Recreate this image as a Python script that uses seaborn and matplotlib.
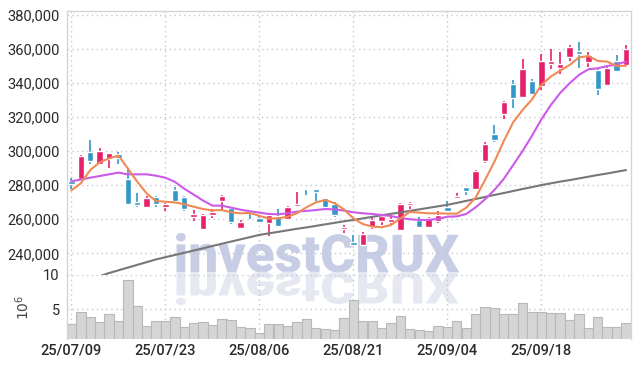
import numpy as np
import pandas as pd
import seaborn as sns
import matplotlib
matplotlib.use("Agg")
import matplotlib.pyplot as plt
import matplotlib.transforms as mtransforms
from matplotlib.ticker import FuncFormatter
from matplotlib.textpath import TextPath
from matplotlib.patches import PathPatch
from matplotlib.font_manager import FontProperties

# daily candles, 2025-07-09 .. 2025-10-01 (60 trading days)
opens = [282400, 283700, 299700, 292300, 295600, 298500, 283600, 269900, 267400, 273100,
         267400, 277200, 273300, 261300, 254500, 262500, 270700, 266400, 254700, 264200,
         260700, 258000, 262100, 260300, 268000, 278400, 277600, 272500, 269000, 254500,
         246600, 245100, 255300, 258800, 258600, 253700, 268200, 259600, 255600, 258800,
         267400, 272700, 278700, 277800, 294200, 310100, 322000, 339500, 331600, 341200,
         338500, 351400, 348700, 355100, 359000, 352200, 347900, 338900, 353000, 350600]
closes = [281000, 297200, 294400, 300100, 298900, 295800, 269000, 268400, 272300, 268800,
          269000, 270500, 265800, 262900, 262500, 264100, 273900, 258200, 258200, 263700,
          258400, 262300, 256200, 267000, 269200, 277900, 276000, 267400, 262700, 255300,
          245100, 251300, 259600, 261900, 260200, 269000, 269400, 255600, 260700, 262300,
          265100, 273700, 276800, 288400, 304200, 306800, 328700, 331000, 348500, 333400,
          353000, 353000, 351200, 361200, 357300, 356500, 336300, 349100, 347100, 360000]
highs = [284000, 297500, 306500, 302000, 299200, 299300, 289300, 275200, 273500, 273500,
         269800, 279000, 273800, 265200, 263000, 266000, 274500, 267000, 259500, 265000,
         261900, 263000, 265800, 267800, 275800, 278600, 277800, 272700, 270100, 256800,
         250500, 252500, 261500, 262300, 261500, 269300, 270300, 261100, 261500, 265000,
         270900, 275200, 279100, 289000, 305200, 315400, 329500, 341600, 354000, 342400,
         356900, 360000, 358500, 362400, 363900, 358100, 348300, 349700, 356500, 362400]
lows = [277800, 283300, 292300, 291800, 290000, 292700, 268300, 267400, 266800, 267000,
        264900, 270000, 265000, 259000, 254000, 260500, 265200, 257000, 254100, 260100,
        257600, 250200, 255300, 259600, 267600, 274300, 270700, 267000, 261500, 251700,
        244900, 244700, 254100, 256800, 256400, 252900, 266200, 254900, 255200, 257600,
        264500, 272300, 274300, 277200, 292900, 305200, 318700, 325200, 331000, 333000,
        336000, 348300, 345300, 353000, 348700, 349500, 333000, 338300, 346500, 350000]

# moving averages
ma_short = [277000, 281100, 288900, 293400, 295800, 297400, 289900, 282100, 275200, 270700,
            270300, 269900, 268800, 267400, 266000, 265200, 265400, 264100, 263500, 263700,
            262000, 260400, 260500, 261500, 263500, 267000, 269900, 271300, 269400, 265800,
            260500, 257200, 255700, 255300, 256600, 260500, 264300, 263900, 263500, 263500,
            263300, 263300, 266800, 272700, 283000, 293800, 306000, 317000, 324200, 330400,
            338900, 343800, 347300, 350600, 355100, 355900, 353000, 352600, 350000, 350200]
ma_mid = [282300, 283300, 284400, 285400, 286400, 287400, 286400, 286400, 286400, 285600,
          284400, 282000, 278000, 274500, 271000, 268000, 268000, 266800, 265600, 264700,
          263900, 263100, 262900, 263500, 264500, 264900, 265400, 266000, 265800, 265100,
          264100, 263500, 263100, 262500, 261900, 260700, 260000, 259600, 259600, 260200,
          261500, 261700, 263100, 267000, 271700, 277200, 283700, 291900, 300100, 309100,
          318700, 327100, 334200, 339900, 344800, 348100, 348700, 350000, 351000, 352600]
ma_long = [221600, 223200, 224800, 226500, 228400, 230000, 231600, 233200, 234800, 236400,
           237700, 239000, 240300, 241600, 242900, 244300, 245600, 246900, 248200, 249500,
           250800, 251700, 252600, 253500, 254400, 255200, 256100, 257000, 257900, 258800,
           259600, 260500, 261400, 262300, 263200, 264000, 264900, 265800, 266700, 267600,
           268500, 269600, 270800, 271900, 273100, 274300, 275400, 276600, 277800, 278900,
           280100, 281100, 282100, 283000, 284000, 285000, 286000, 286900, 287900, 288900]

# volume, millions
volume = [2.86, 4.56, 3.83, 3.15, 4.27, 3.25, 9.23, 5.44, 2.52, 3.25,
          3.25, 3.83, 2.38, 2.96, 3.11, 2.67, 3.54, 3.40, 2.38, 2.23,
          1.50, 2.81, 2.81, 2.52, 3.10, 3.54, 2.23, 2.08, 1.94, 3.69,
          6.31, 3.25, 3.25, 2.23, 2.96, 3.98, 2.08, 1.94, 1.84, 2.52,
          2.38, 3.25, 2.23, 4.27, 5.29, 5.15, 4.27, 4.27, 5.87, 4.56,
          4.56, 4.42, 4.42, 3.40, 4.27, 2.23, 3.83, 2.38, 2.38, 2.96]

date_ticks = [0, 10, 20, 30, 40, 50]
date_labels = ["25/07/09", "25/07/23", "25/08/06", "25/08/21", "25/09/04", "25/09/18"]

UP = "#e6206a"
DOWN = "#3396c8"

df = pd.DataFrame({"o": opens, "h": highs, "l": lows, "c": closes,
                   "ma5": ma_short, "ma20": ma_mid, "ma60": ma_long, "vol": volume})
df["i"] = np.arange(len(df))

sns.set_style("white")
plt.rcParams["font.family"] = ["Roboto", "DejaVu Sans"]

W, H = 639, 368
fig = plt.figure(figsize=(W / 100, H / 100), dpi=100)
left, right = 66.7, 630.7
ax = fig.add_axes([left / W, (H - 275) / H, (right - left) / W, 264 / H])
axv = fig.add_axes([left / W, (H - 339.3) / H, (right - left) / W, 64.3 / H])
for a in (ax, axv):
    a.set_facecolor("none")

# watermark + its reflection
tp = TextPath((0, 0), "investCRUX", size=1,
              prop=FontProperties(family="Roboto", weight="black"))
bb = tp.get_extents()
for hpx, col in ((39, "#c6cde4"), (-33, "#e5e8f1")):
    tr = (mtransforms.Affine2D().translate(-bb.x0, 0)
          .scale((459 - 176) / W / bb.width, hpx / H / bb.y1)
          .translate(176 / W, (H - 272) / H) + fig.transFigure)
    fig.add_artist(PathPatch(tp, transform=tr, facecolor=col, edgecolor="none", zorder=-1))

# candles
up = df.c >= df.o
colors = np.where(up, UP, DOWN)
ax.vlines(df.i, df.l, df.h, colors=colors, linewidth=1.2, zorder=3)
ax.bar(df.i, (df.c - df.o).abs().clip(lower=500), bottom=df[["o", "c"]].min(axis=1),
       width=0.68, color=colors, zorder=4)

sns.lineplot(data=df, x="i", y="ma60", ax=ax, color="#777777", linewidth=1.5, zorder=5)
sns.lineplot(data=df, x="i", y="ma20", ax=ax, color="#cc5ae8", linewidth=1.5, zorder=5)
sns.lineplot(data=df, x="i", y="ma5", ax=ax, color="#ef8a55", linewidth=1.5, zorder=5)

sns.barplot(data=df, x="i", y="vol", ax=axv, color="#d5d5d5", edgecolor="#b8b8b8",
            linewidth=0.8, width=1.0, saturation=1)

grid_kw = dict(color="#c6c6d6", linestyle=(0, (1, 2.5)), linewidth=1.0)
ax.set_xlim(-0.5, 59.5)
ax.set_ylim(227250, 382350)
ax.set_yticks(range(240000, 380001, 20000))
ax.yaxis.set_major_formatter(FuncFormatter(lambda v, p: f"{int(v):,}"))
ax.set_xticks(date_ticks)
ax.set_xticklabels([])
ax.grid(True, **grid_kw)

axv.set_xlim(-0.5, 59.5)
axv.set_ylim(0.63, 10.0)
axv.set_yticks([5, 10])
axv.set_yticklabels(["5", "10"])
axv.set_xticks(date_ticks)
axv.set_xticklabels(date_labels, fontweight="medium")
axv.grid(True, **grid_kw)
axv.set_axisbelow(True)
ax.set_axisbelow(True)
axv.set_xlabel("")
axv.set_ylabel(r"$10^6$", fontsize=10, color="#444444", labelpad=8)
ax.set_xlabel("")
ax.set_ylabel("")

for a in (ax, axv):
    a.tick_params(length=0, labelsize=10.5, labelcolor="#2a2a2a", pad=5)
    for s in a.spines.values():
        s.set_color("#d4d4d8")
        s.set_linewidth(1.0)
axv.tick_params(axis="x", pad=3)
ax.spines["bottom"].set_visible(False)
axv.spines["top"].set_visible(False)
axv.spines["bottom"].set_visible(False)

fig.savefig("out.png", dpi=100, facecolor="white")
